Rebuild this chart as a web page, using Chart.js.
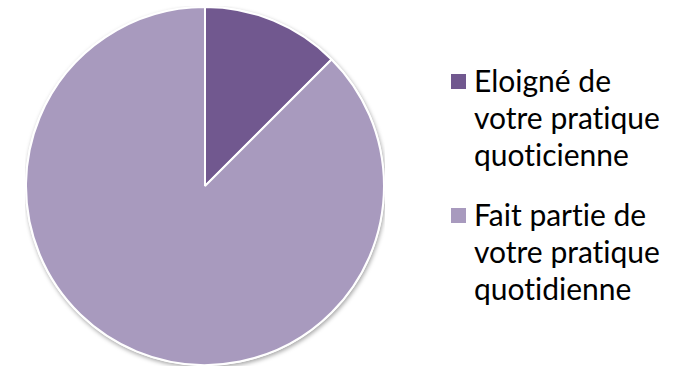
<!DOCTYPE html>
<html>
<head>
<meta charset="utf-8">
<script src="https://cdn.jsdelivr.net/npm/chart.js@4/dist/chart.umd.min.js"></script>
<style>
  html, body { margin: 0; padding: 0; background: #fff; }
  #wrap { position: relative; width: 679px; height: 368px; overflow: hidden; }
  #pieBox { position: absolute; left: 25px; top: 5.5px; width: 360px; height: 360px; }
  #legend { position: absolute; left: 451px; top: 62px; width: 220px; font-family: Lato, "Open Sans", sans-serif; font-size: 30px; line-height: 37px; color: #000; font-variant-ligatures: none; }
  .item { position: relative; padding-left: 23px; margin-bottom: 23px; }
  .box { position: absolute; left: 0; top: 12px; width: 15px; height: 15px; }
</style>
</head>
<body>
<div id="wrap">
  <div id="pieBox"><canvas id="pie"></canvas></div>
  <div id="legend"></div>
</div>
<script>
const categories = ["Eloigné de votre pratique quoticienne", "Fait partie de votre pratique quotidienne"];
const values = [1, 7];
const colors = ["#71588f", "#a89abe"];

// soft shadow behind the pie, like the office export
const pieShadow = {
  id: "pieShadow",
  beforeDatasetsDraw(chart) {
    const arc = chart.getDatasetMeta(0).data[0];
    if (!arc) return;
    const ctx = chart.ctx;
    ctx.save();
    ctx.shadowColor = "rgba(0,0,0,0.35)";
    ctx.shadowBlur = 4;
    ctx.shadowOffsetX = 1;
    ctx.shadowOffsetY = 2;
    ctx.beginPath();
    ctx.arc(arc.x, arc.y, arc.outerRadius + 1, 0, Math.PI * 2);
    ctx.fillStyle = "#fff";
    ctx.fill();
    ctx.restore();
  }
};

new Chart(document.getElementById("pie"), {
  type: "pie",
  data: {
    labels: categories,
    datasets: [{
      data: values,
      backgroundColor: colors,
      borderColor: "#fff",
      borderWidth: 2
    }]
  },
  options: {
    responsive: true,
    maintainAspectRatio: false,
    animation: false,
    layout: { padding: 0 },
    plugins: {
      legend: { display: false },
      tooltip: { enabled: false }
    }
  },
  plugins: [pieShadow]
});

const legend = document.getElementById("legend");
categories.forEach((c, i) => {
  const item = document.createElement("div");
  item.className = "item";
  const box = document.createElement("span");
  box.className = "box";
  box.style.background = colors[i];
  item.appendChild(box);
  item.appendChild(document.createTextNode(c));
  legend.appendChild(item);
});
</script>
</body>
</html>
